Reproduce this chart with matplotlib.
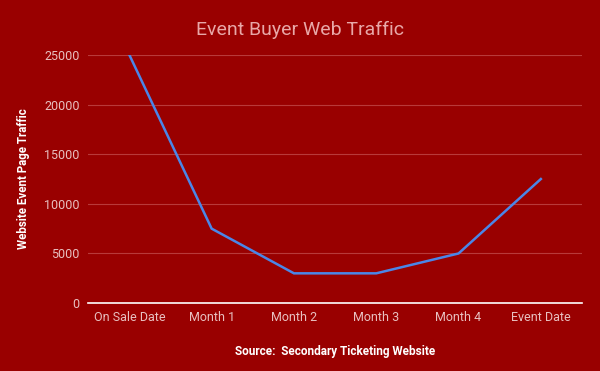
import matplotlib
matplotlib.use("Agg")
import matplotlib.pyplot as plt

categories = ["On Sale Date", "Month 1", "Month 2", "Month 3", "Month 4", "Event Date"]
traffic = [25000, 7500, 3000, 3000, 5000, 12500]
y_ticks = [0, 5000, 10000, 15000, 20000, 25000]

bg = "#990000"
plt.rcParams["font.family"] = ["Roboto", "DejaVu Sans"]

fig = plt.figure(figsize=(6, 3.71), dpi=100, facecolor=bg)
ax = fig.add_axes([0.147, 0.183, 0.823, 0.669], facecolor=bg)

x = range(len(categories))
ax.plot(x, traffic, color="#4a86e8", linewidth=1.8, solid_joinstyle="miter")

ax.set_xlim(-0.5, len(categories) - 0.5)
ax.set_ylim(0, 25000)
ax.set_xticks(list(x))
ax.set_xticklabels(categories)
ax.set_yticks(y_ticks)
ax.tick_params(colors="#e8c0c0", labelsize=9, length=0, pad=6)
ax.grid(axis="y", color="#b83a3a", linewidth=0.8)
ax.set_axisbelow(True)
for s in ["top", "right", "left"]:
    ax.spines[s].set_visible(False)
ax.spines["bottom"].set_color("white")
ax.spines["bottom"].set_linewidth(1.2)

ax.set_ylabel("Website Event Page Traffic", color="white", fontsize=8.3, fontweight="bold", labelpad=10)
ax.set_xlabel("Source:  Secondary Ticketing Website", color="white", fontsize=8.5, fontweight="bold", labelpad=15)
fig.text(0.5, 0.918, "Event Buyer Web Traffic", ha="center", va="center", color="#e8a8a8", fontsize=14)

fig.savefig("out.png", dpi=100, facecolor=bg)
